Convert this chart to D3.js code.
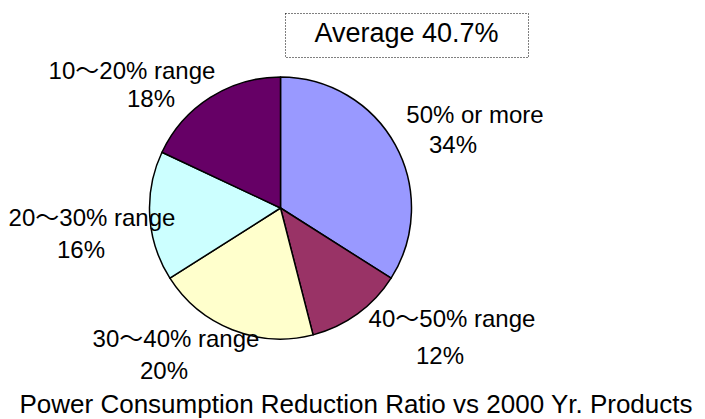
<!DOCTYPE html>
<html lang="en">
<head>
<meta charset="UTF-8">
<title>Power Consumption Reduction Ratio</title>
<script src="https://d3js.org/d3.v7.min.js"></script>
<style>
  body { margin: 0; background: #fff; }
  text { font-family: "Liberation Sans", Arial, "Noto Sans CJK JP", sans-serif; fill: #000; }
</style>
</head>
<body>
<div id="my_dataviz"></div>
<script>
// data
var categories = ["50% or more", "40\uFF5E50% range", "30\uFF5E40% range", "20\uFF5E30% range", "10\uFF5E20% range"];
var values = [34, 12, 20, 16, 18];
var colors = ["#9999FF", "#993366", "#FFFFCC", "#CCFFFF", "#660066"];
var average = "Average 40.7%";
var title = "Power Consumption Reduction Ratio vs 2000 Yr. Products";

// label layout: [x, baseline of name, x, baseline of percent]
var labelPos = [
  [475, 123, 453, 153],
  [452, 327, 440, 364],
  [176, 347, 164, 379],
  [92, 226, 81, 258],
  [132, 79, 151, 107]
];

var width = 705, height = 419;
var cx = 280.5, cy = 208, r = 131;

var svg = d3.select("#my_dataviz")
  .append("svg")
    .attr("width", width)
    .attr("height", height);

var data = categories.map(function(c, i) { return { name: c, value: values[i], color: colors[i] }; });

var pie = d3.pie()
  .sort(null)
  .value(function(d) { return d.value; });

var arc = d3.arc()
  .innerRadius(0)
  .outerRadius(r);

var g = svg.append("g")
  .attr("transform", "translate(" + cx + "," + cy + ")");

g.selectAll("path")
  .data(pie(data))
  .enter()
  .append("path")
    .attr("d", arc)
    .attr("fill", function(d) { return d.data.color; })
    .attr("stroke", "#000")
    .attr("stroke-width", 1.5)
    .attr("stroke-linejoin", "round");

// labels
data.forEach(function(d, i) {
  var p = labelPos[i];
  svg.append("text")
    .attr("x", p[0]).attr("y", p[1])
    .attr("text-anchor", "middle")
    .style("font-size", "24px")
    .text(d.name);
  svg.append("text")
    .attr("x", p[2]).attr("y", p[3])
    .attr("text-anchor", "middle")
    .style("font-size", "24px")
    .text(d.value + "%");
});

// average box
svg.append("rect")
  .attr("x", 285.5).attr("y", 13.5)
  .attr("width", 243).attr("height", 44)
  .attr("fill", "none")
  .attr("stroke", "#000")
  .attr("stroke-width", 1)
  .attr("stroke-dasharray", "1,2");

svg.append("text")
  .attr("x", 406.5).attr("y", 42)
  .attr("text-anchor", "middle")
  .style("font-size", "27px")
  .text(average);

// title
svg.append("text")
  .attr("x", 356).attr("y", 413)
  .attr("text-anchor", "middle")
  .style("font-size", "26px")
  .text(title);
</script>
</body>
</html>
